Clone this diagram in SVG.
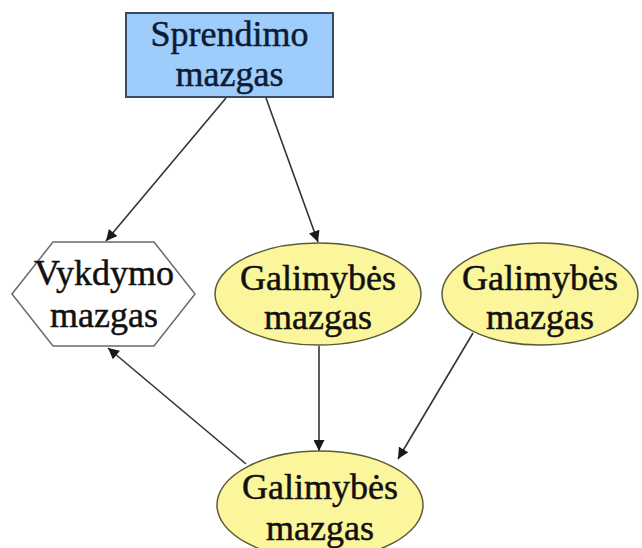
<svg xmlns="http://www.w3.org/2000/svg" width="642" height="548" viewBox="0 0 642 548">
  <defs>
    <marker id="arrow" viewBox="0 0 10 10" refX="10" refY="5" markerWidth="12" markerHeight="11" markerUnits="userSpaceOnUse" orient="auto">
      <path d="M0,0 L10,5 L0,10 z" fill="#1a1a1a"/>
    </marker>
    <style>
      .lbl { font-family: "Liberation Serif", "Times New Roman", serif; font-size: 36px; text-anchor: middle; fill: #111; stroke: #111; stroke-width: 0.5; }
      .decision { fill: #9fcdfb; stroke: #3b4a5c; stroke-width: 2; }
      .decision-text { fill: #0d1b33; stroke: #0d1b33; }
      .exec { fill: #ffffff; stroke: #6a6a6a; stroke-width: 1.5; }
      .option { fill: #fbf59c; stroke: #5c5a38; stroke-width: 1.5; }
      .edge { stroke: #333; stroke-width: 1.6; fill: none; marker-end: url(#arrow); }
    </style>
  </defs>
  <rect width="642" height="548" fill="#ffffff"/>

  <g id="edges">
    <line class="edge" x1="226" y1="98" x2="106" y2="241"/>
    <line class="edge" x1="266" y1="98" x2="318" y2="242"/>
    <line class="edge" x1="319" y1="346" x2="319" y2="451"/>
    <line class="edge" x1="473" y1="333" x2="398" y2="459"/>
    <line class="edge" x1="246" y1="464" x2="108" y2="348"/>
  </g>

  <g id="decision">
    <rect class="decision" x="126" y="13" width="207" height="84"/>
    <text class="lbl decision-text" x="229.5" y="46">Sprendimo</text>
    <text class="lbl decision-text" x="229.5" y="86">mazgas</text>
  </g>

  <g id="execution">
    <polygon class="exec" points="12,294 53,242 154,242 195,294 154,346 53,346"/>
    <text class="lbl" x="104" y="285">Vykdymo</text>
    <text class="lbl" x="104" y="327">mazgas</text>
  </g>

  <g id="option-1">
    <ellipse class="option" cx="318" cy="294" rx="103" ry="51"/>
    <text class="lbl" x="318" y="290">Galimybės</text>
    <text class="lbl" x="318" y="329">mazgas</text>
  </g>

  <g id="option-2">
    <ellipse class="option" cx="540" cy="294" rx="98" ry="51"/>
    <text class="lbl" x="540" y="290">Galimybės</text>
    <text class="lbl" x="540" y="329">mazgas</text>
  </g>

  <g id="option-3">
    <ellipse class="option" cx="320" cy="505" rx="103" ry="54"/>
    <text class="lbl" x="320" y="499">Galimybės</text>
    <text class="lbl" x="320" y="540">mazgas</text>
  </g>
</svg>
